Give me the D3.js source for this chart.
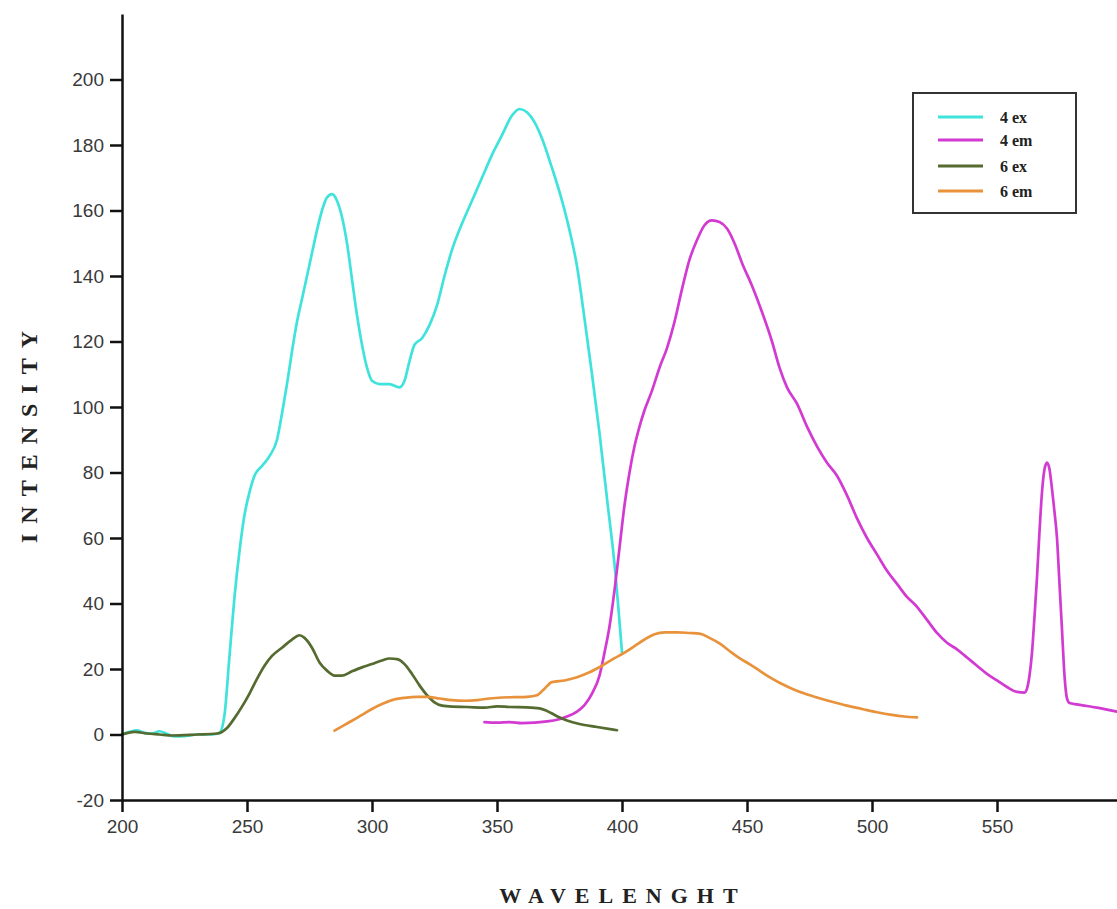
<!DOCTYPE html>
<html>
<head>
<meta charset="utf-8">
<script src="https://cdn.jsdelivr.net/npm/d3@7"></script>
<style>
  body { margin: 0; background: #fff; }
  .tick text { font-family: Arial, "Liberation Sans", sans-serif; font-size: 19px; fill: #3a3a3a; }
</style>
</head>
<body>
<div id="chart"></div>
<script>
// wavelength / intensity pairs
var ex4 = [[200,0],[203,0.8],[206,1.3],[209,0.5],[212,0.3],[215,1.0],[218,0.2],[221,-0.6],[225,-0.5],[230,0],[236,0],[239,0.5],
  [241,6],[243,24],[245,42],[247,56],[249,67],[251,74],[253,79],[256,82],[259,85],[262,90],[264,98],[266,107],[268,117],
  [270,126],[272,133],[274,140],[276,147],[278,154],[280,160],[282,164],[284,165],[286,163],[288,158],[290,150],[292,139],
  [294,128],[296,119],[298,112],[300,108],[303,107],[307,107],[311,106],[313,108],[315,114],[317,119],[320,121],[323,125],
  [326,131],[329,140],[332,148],[336,156],[340,163],[344,170],[348,177],[352,183],[356,189],[359,191],[362,190],[365,187],
  [368,182],[372,173],[376,163],[379,154],[382,143],[385,127],[388,110],[391,92],[394,72],[397,52],[400,25]];

var em4 = [[345,3.8],[350,3.6],[355,3.8],[360,3.5],[365,3.6],[370,4],[374,4.5],[378,5.5],[382,7],[385,9],[388,12.5],
  [391,18],[393,25],[395,33],[397,44],[399,57],[401,70],[403,80],[405,88],[407,94],[409,99],[412,105],[415,112],[418,118],
  [421,126],[424,136],[427,145],[430,151],[433,155.5],[436,157],[439,156.5],[442,154.5],[445,150],[448,144],[452,137],
  [456,129],[460,120],[463,112],[466,106],[470,101],[474,94],[478,88],[482,83],[486,79],[490,73],[494,66],[498,60],
  [502,55],[506,50],[510,46],[514,42],[518,39],[522,35],[526,31],[530,28],[534,26],[538,23.5],[542,21],[546,18.5],
  [550,16.5],[554,14.5],[558,13],[561,12.8],[562,14],[563,18],[564,25],[565,36],[566,48],[567,62],[568,74],[569,81],
  [570,83],[571,81],[572,75],[573,68],[574,60],[575,46],[576,32],[577,18],[578,11],[579,9.6],[582,9.2],[586,8.7],
  [590,8.2],[594,7.6],[598,7]];

var ex6 = [[200,0],[205,0.8],[210,0.3],[215,0],[220,-0.3],[230,0],[238,0.3],[242,2],[245,5],[248,8.5],[251,12.5],
  [254,17],[257,21],[260,24],[264,26.5],[268,29],[271,30.3],[273,29.5],[276,26.5],[279,22],[282,19.5],[285,18],[288,18],
  [292,19.3],[296,20.5],[300,21.5],[304,22.6],[307,23.2],[310,23],[313,21.5],[316,18.5],[319,15],[322,12],[325,9.8],
  [328,8.8],[332,8.5],[338,8.4],[345,8.2],[350,8.6],[355,8.4],[362,8.3],[367,8],[370,7.2],[374,5.6],[378,4.3],
  [383,3.2],[390,2.3],[398,1.3]];

var em6 = [[285,1.2],[288,2.5],[292,4.2],[296,6],[300,7.8],[304,9.3],[308,10.5],[313,11.2],[318,11.5],[322,11.5],
  [327,11],[332,10.5],[337,10.3],[342,10.5],[347,11],[352,11.3],[357,11.4],[362,11.5],[366,12],[369,14],[372,16],
  [377,16.5],[382,17.5],[387,19],[392,21],[397,23.3],[401,25],[405,27],[409,29],[413,30.6],[417,31.2],[422,31.2],
  [427,31],[431,30.8],[435,29.5],[439,27.8],[443,25.5],[447,23.3],[451,21.5],[455,19.5],[459,17.5],[463,15.8],
  [468,14],[473,12.5],[478,11.3],[484,10],[490,8.8],[496,7.8],[502,6.8],[508,6],[513,5.5],[518,5.2]];

var seriesNames = ["4 ex", "4 em", "6 ex", "6 em"];
var seriesColors = ["#3fe3dc", "#d23ad2", "#556b2f", "#e8923c"];
var xTicks = [200, 250, 300, 350, 400, 450, 500, 550];
var yTicks = [-20, 0, 20, 40, 60, 80, 100, 120, 140, 160, 180, 200];

var W = 1117, H = 909;
var margin = {top: 14, right: 0, bottom: 109, left: 122};

var svg = d3.select("#chart").append("svg")
    .attr("width", W)
    .attr("height", H)
    .style("background", "#fff");

var x = d3.scaleLinear().domain([200, 598]).range([margin.left, W - margin.right]);
var y = d3.scaleLinear().domain([-20, 220]).range([H - margin.bottom, margin.top]);

var line = d3.line()
    .x(function(d) { return x(d[0]); })
    .y(function(d) { return y(d[1]); })
    .curve(d3.curveMonotoneX);

var allSeries = [ex4, em4, ex6, em6];

svg.selectAll(".curve")
    .data(allSeries)
    .enter()
    .append("path")
    .attr("class", "curve")
    .attr("d", line)
    .attr("fill", "none")
    .attr("stroke", function(d, i) { return seriesColors[i]; })
    .attr("stroke-width", 2.7)
    .attr("stroke-linejoin", "round")
    .attr("stroke-linecap", "round");

// axes (plain hyphen for negatives, like the original)
var fmt = function(d) { return String(d); };
var xAxis = svg.append("g")
    .attr("transform", "translate(0," + y(-20) + ")")
    .call(d3.axisBottom(x).tickValues(xTicks).tickFormat(fmt).tickSize(12).tickPadding(8).tickSizeOuter(0));
var yAxis = svg.append("g")
    .attr("transform", "translate(" + x(200) + ",0)")
    .call(d3.axisLeft(y).tickValues(yTicks).tickFormat(fmt).tickSize(12).tickPadding(6).tickSizeOuter(0));

[xAxis, yAxis].forEach(function(g) {
    g.select(".domain").attr("stroke", "#111").attr("stroke-width", 2.5);
    g.selectAll(".tick line").attr("stroke", "#111").attr("stroke-width", 2.5);
});

// axis titles
svg.append("text")
    .attr("x", 623)
    .attr("y", 903)
    .attr("text-anchor", "middle")
    .style("font-family", "'Liberation Serif', 'DejaVu Serif', serif")
    .style("font-weight", "bold")
    .style("font-size", "22px")
    .style("letter-spacing", "9px")
    .style("fill", "#222")
    .text("WAVELENGHT");

svg.append("text")
    .attr("transform", "translate(37,432) rotate(-90)")
    .attr("text-anchor", "middle")
    .style("font-family", "'Liberation Serif', 'DejaVu Serif', serif")
    .style("font-weight", "bold")
    .style("font-size", "24px")
    .style("letter-spacing", "10px")
    .style("fill", "#222")
    .text("INTENSITY");

// legend
var legend = svg.append("g");
legend.append("rect")
    .attr("x", 913).attr("y", 93)
    .attr("width", 163).attr("height", 120)
    .attr("fill", "#fff")
    .attr("stroke", "#333")
    .attr("stroke-width", 2);

var legendY = [117, 140, 166, 191];
var items = legend.selectAll(".item")
    .data(seriesNames)
    .enter()
    .append("g")
    .attr("class", "item")
    .attr("transform", function(d, i) { return "translate(0," + legendY[i] + ")"; });
items.append("line")
    .attr("x1", 938).attr("x2", 983)
    .attr("stroke", function(d, i) { return seriesColors[i]; })
    .attr("stroke-width", 3);
items.append("text")
    .attr("x", 1000)
    .attr("dy", "0.35em")
    .style("font-family", "'Liberation Serif', 'DejaVu Serif', serif")
    .style("font-weight", "bold")
    .style("font-size", "16px")
    .style("fill", "#222")
    .text(function(d) { return d; });
</script>
</body>
</html>
